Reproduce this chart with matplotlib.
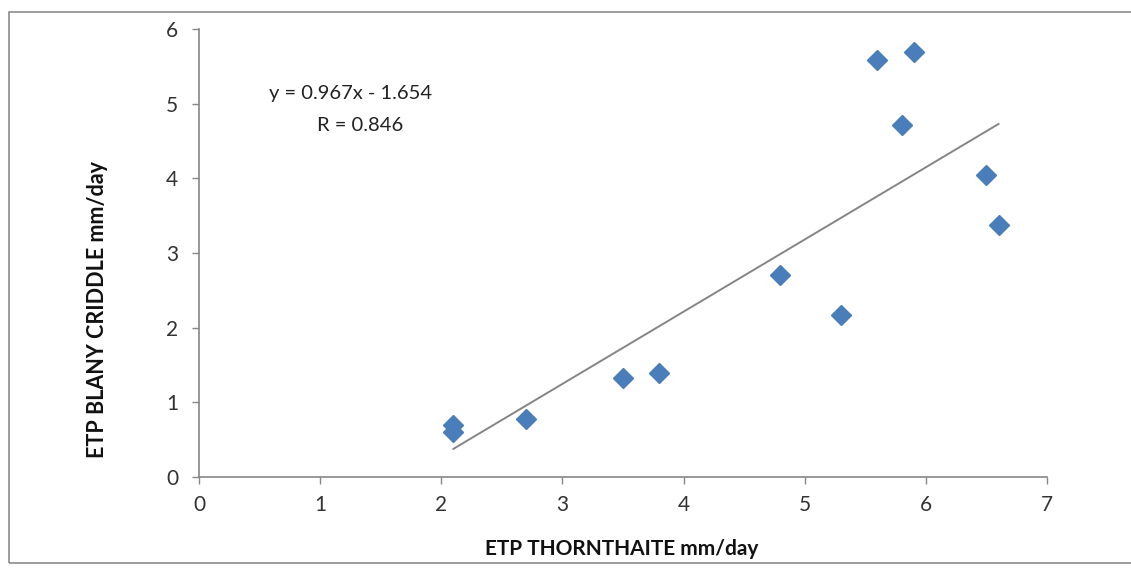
import numpy as np
import matplotlib
matplotlib.use("Agg")
import matplotlib.pyplot as plt
from matplotlib.patches import Rectangle

# ETP values (mm/day)
etp_thornthwaite = [2.1, 2.1, 2.7, 3.5, 3.8, 4.8, 5.3, 5.6, 5.9, 5.8, 6.5, 6.6]
etp_blaney = [0.70, 0.60, 0.78, 1.32, 1.39, 2.71, 2.17, 5.58, 5.69, 4.71, 4.04, 3.38]

slope = 0.967
intercept = -1.654
r_value = 0.846

x_ticks = [0, 1, 2, 3, 4, 5, 6, 7]
y_ticks = [0, 1, 2, 3, 4, 5, 6]

plt.rcParams["font.family"] = ["Lato", "DejaVu Sans"]

W, H = 1131, 568
fig = plt.figure(figsize=(W / 100, H / 100), dpi=100)
ax = fig.add_axes([199 / W, 1 - 477 / H, (1047 - 199) / W, (477 - 29) / H])

# outer chart frame
fig.patches.append(Rectangle((9 / W, 1 - 563 / H), 1.2, (563 - 12) / H,
                             transform=fig.transFigure, fill=False,
                             edgecolor="#8c8c8c", linewidth=1.2))

ax.plot(etp_thornthwaite, etp_blaney, linestyle="none", marker="D",
        markersize=10, color="#4A7EBB", zorder=3)

xs = np.array([min(etp_thornthwaite), max(etp_thornthwaite)])
ax.plot(xs, slope * xs + intercept, color="#858585", linewidth=1.4, zorder=2)

ax.text(0.58, 5.06, "y = 0.967x - 1.654", fontsize=14.5, color="#222222")
ax.text(0.97, 4.64, f"R = {r_value:.3f}", fontsize=14.5, color="#222222")

ax.set_xlim(0, 7)
ax.set_ylim(0, 6)
ax.set_xticks(x_ticks)
ax.set_yticks(y_ticks)
for s in ["top", "right"]:
    ax.spines[s].set_visible(False)
for s in ["left", "bottom"]:
    ax.spines[s].set_color("#868686")
    ax.spines[s].set_linewidth(1.2)
ax.tick_params(axis="both", direction="out", length=5, width=1, color="#868686",
               labelsize=15, labelcolor="#333333")
ax.tick_params(axis="x", pad=8)
ax.tick_params(axis="y", pad=10)

ax.set_xlabel("ETP THORNTHAITE mm/day", fontsize=15, fontweight="bold", color="#111111")
ax.xaxis.set_label_coords((622 - 199) / (1047 - 199), -(539 - 477) / (477 - 29))
ax.set_ylabel("ETP BLANY CRIDDLE mm/day", fontsize=15.5, fontweight="bold", color="#111111")
ax.yaxis.set_label_coords(-(199 - 108) / (1047 - 199), (477 - 310) / (477 - 29))

fig.savefig("out.png", dpi=100)
